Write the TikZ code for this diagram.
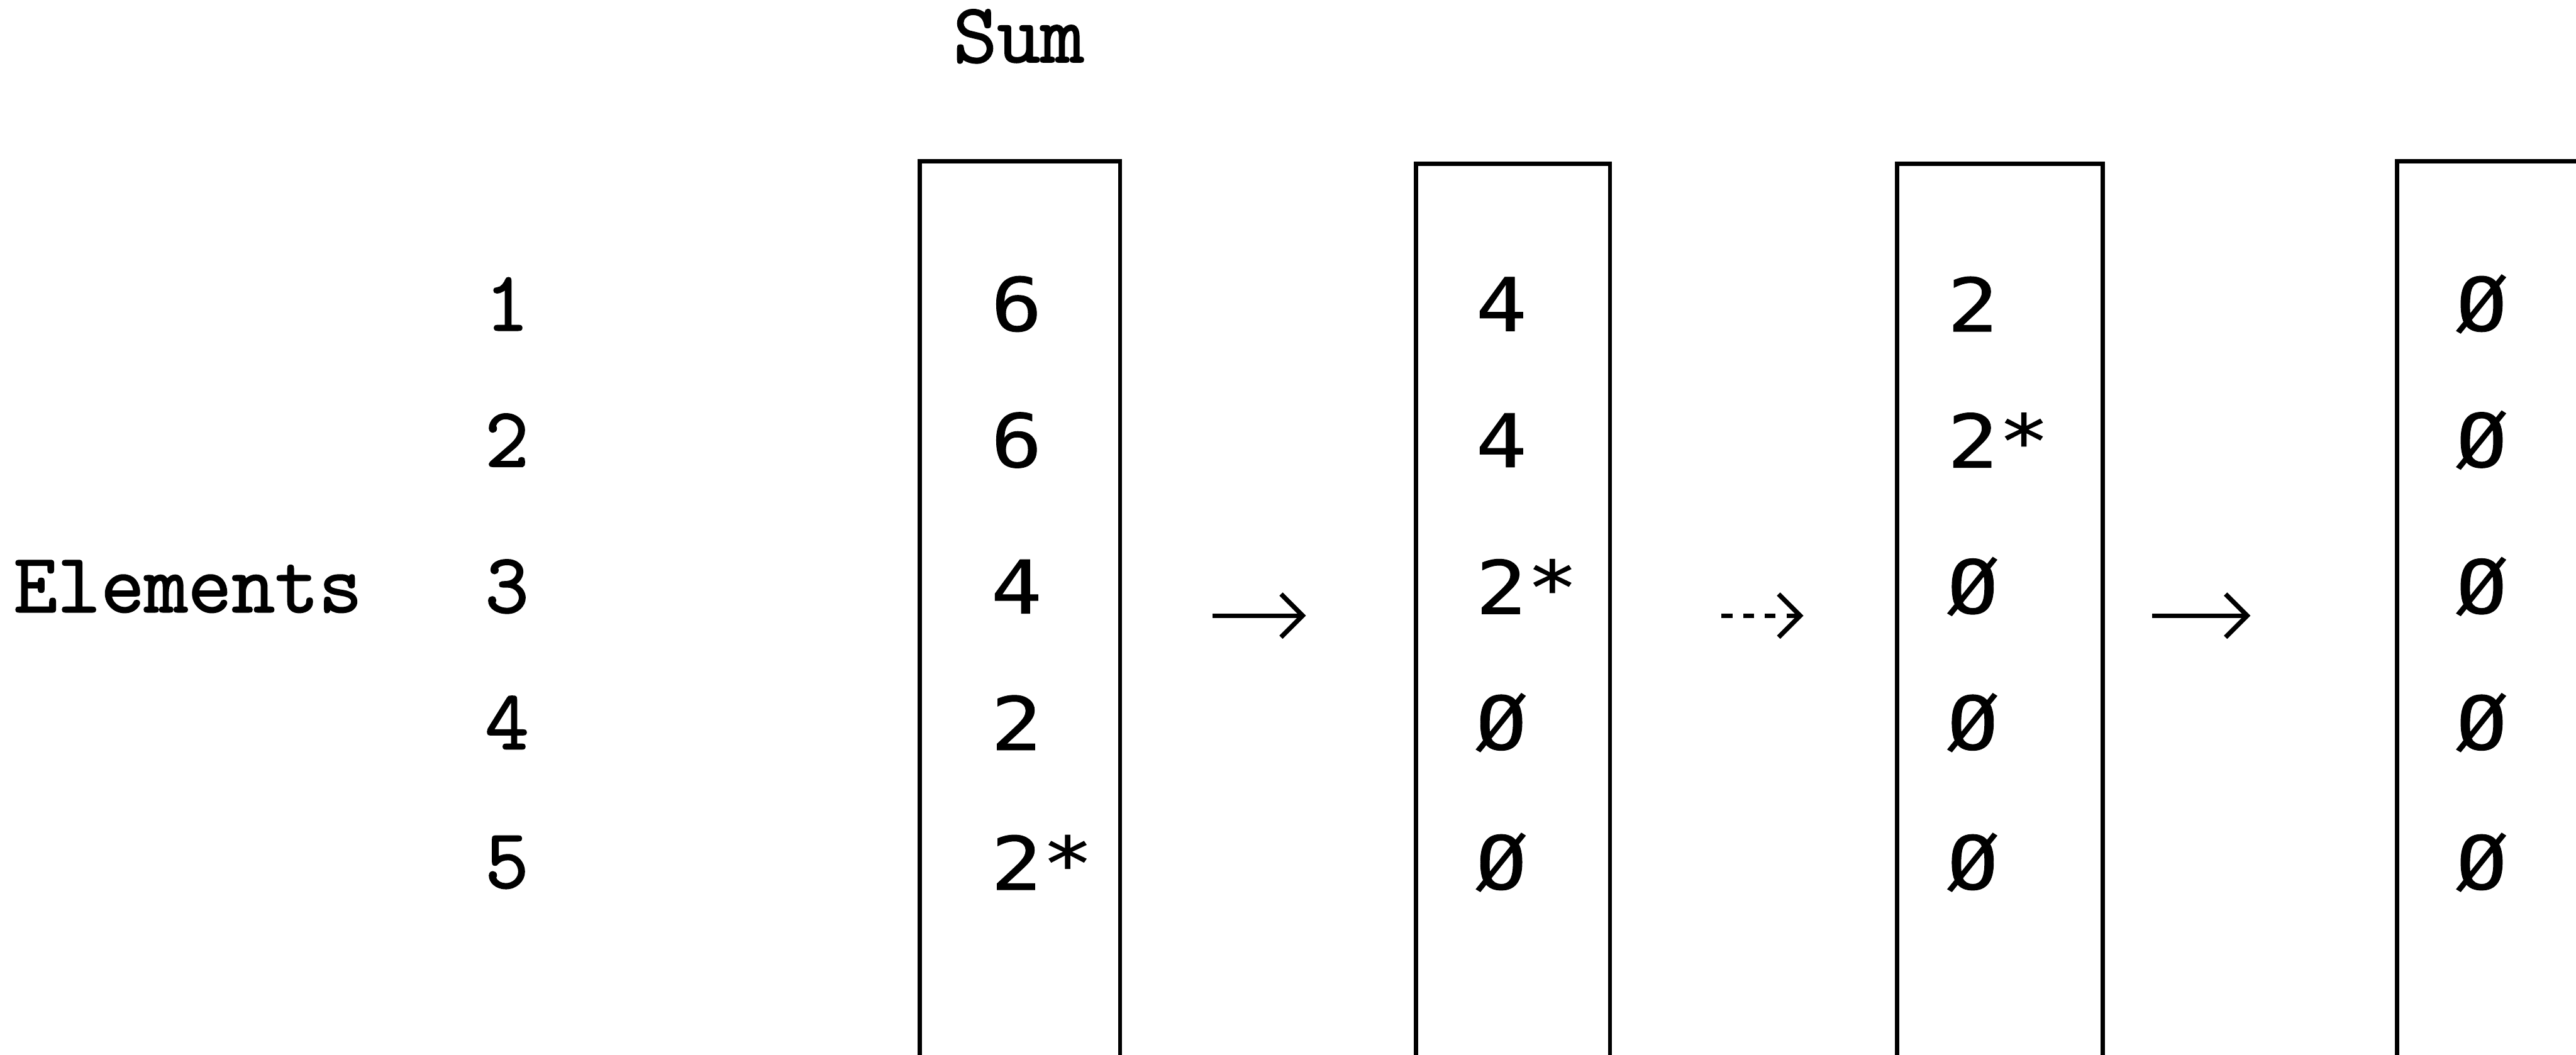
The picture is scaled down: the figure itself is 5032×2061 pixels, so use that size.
\documentclass[tikz,border=0pt]{standalone}
\usepackage{fontspec}
\setmonofont{Latin Modern Mono}[FakeBold=1.6]
\newfontfamily\digitfont{DejaVu Sans Mono}[FakeStretch=1.15, FakeBold=0.8]
\usetikzlibrary{arrows.meta, positioning}

\begin{document}
\begin{tikzpicture}[x=0.01cm, y=-0.01cm,
  word/.style={font=\ttfamily\fontsize{47}{56}\selectfont, inner sep=0pt},
  val/.style={font=\digitfont\fontsize{41}{49}\selectfont, anchor=west, inner sep=0pt},
  colbox/.style={line width=2.4pt},
  flow/.style={line width=2.6pt, -{Straight Barb[length=12pt, width=24pt]}}
]
  \useasboundingbox (0,0) rectangle (5032,2061);

  \node[word] (sum) at (1990,71) {Sum};
  \node[word, anchor=west] (elements) at (26,1146) {Elements};
  \foreach \i/\y in {1/594, 2/860, 3/1146, 4/1412, 5/1685}
    \node[word, anchor=west] (row\i) at (947,\y) {\i};

  \draw[colbox] (1797,2061) |- (2188,315) -- (2188,2061);
  \draw[colbox] (2766,2061) |- (3145,320) -- (3145,2061);
  \draw[colbox] (3706,2061) |- (4107,320) -- (4107,2061);
  \draw[colbox] (4682,2061) |- (5040,315);

  \foreach \i/\y/\a/\b/\c/\d in {1/594/6/4/2/Ø, 2/860/6/4/2*/Ø, 3/1146/4/2*/Ø/Ø,
                                 4/1412/2/Ø/Ø/Ø, 5/1685/2*/Ø/Ø/Ø} {
    \node[val] (c1r\i) at (1935,\y) {\a};
    \node[val] (c2r\i) at (2882,\y) {\b};
    \node[val] (c3r\i) at (3803,\y) {\c};
    \node[val] (c4r\i) at (4797,\y) {\d};
  }

  \coordinate (s1) at (2368,1203);
  \coordinate (e1) at (2551,1203);
  \coordinate (s2) at (3363,1203);
  \coordinate (e2) at (3523,1203);
  \coordinate (s3) at (4204,1203);
  \coordinate (e3) at (4396,1203);
  \draw[flow] (s1) -- (e1);
  \draw[flow, dash pattern=on 6pt off 6pt] (s2) -- (e2);
  \draw[flow] (s3) -- (e3);
\end{tikzpicture}
\end{document}
